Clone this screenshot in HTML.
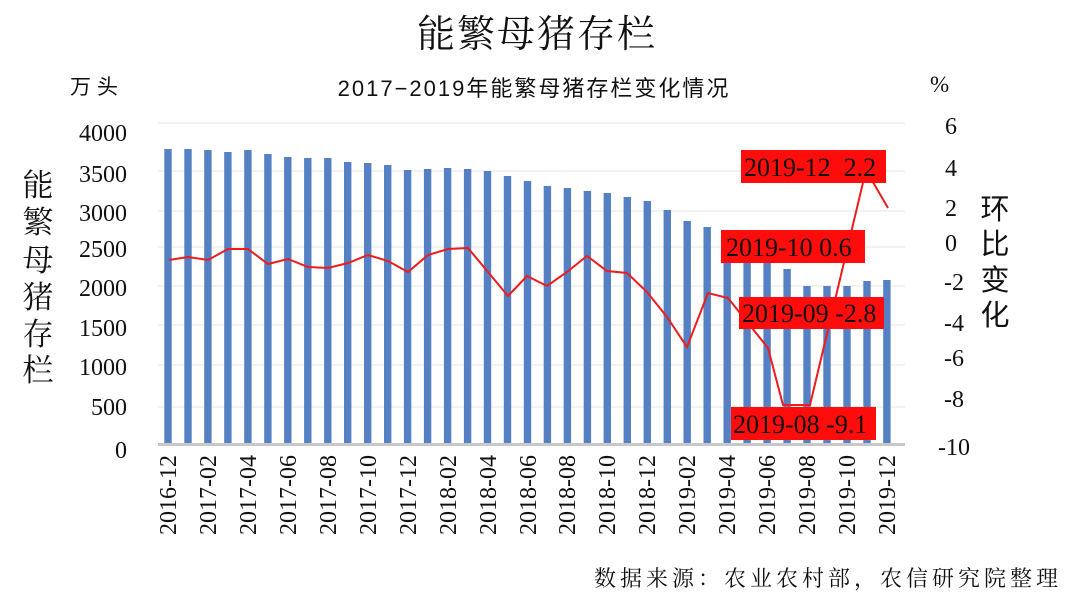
<!DOCTYPE html>
<html><head><meta charset="utf-8"><style>
body{margin:0;background:#fff}
svg{display:block}
.s{font-family:"Liberation Serif","Noto Serif CJK SC",serif}
.k{font-family:"Liberation Sans","Noto Sans CJK SC",sans-serif}
.t{font-family:"Liberation Serif","Noto Serif CJK SC",serif}
</style></head><body>
<svg width="1080" height="604" viewBox="0 0 1080 604" xmlns="http://www.w3.org/2000/svg">
<text x="537" y="47" class="t" font-size="38" text-anchor="middle" fill="#111" letter-spacing="2">能繁母猪存栏</text>
<text x="534" y="96" class="k" font-size="22" text-anchor="middle" fill="#111" letter-spacing="2">2017−2019年能繁母猪存栏变化情况</text>
<text x="70" y="94" class="k" font-size="21" fill="#111" letter-spacing="6">万头</text>
<text x="930" y="92" class="s" font-size="23" fill="#111">%</text>
<g stroke="#e6e6e6" stroke-width="1">
<line x1="158" x2="905" y1="123" y2="123"/><line x1="158" x2="905" y1="171" y2="171"/>
<line x1="158" x2="905" y1="211" y2="211"/><line x1="158" x2="905" y1="247" y2="247"/>
<line x1="158" x2="905" y1="286" y2="286"/><line x1="158" x2="905" y1="325" y2="325"/>
<line x1="158" x2="905" y1="365" y2="365"/><line x1="158" x2="905" y1="407" y2="407"/>
</g>
<g class="s" font-size="24" fill="#111" text-anchor="end">
<text x="127" y="141">4000</text><text x="127" y="182">3500</text><text x="127" y="221">3000</text>
<text x="127" y="257">2500</text><text x="127" y="296">2000</text><text x="127" y="336">1500</text>
<text x="127" y="375">1000</text><text x="127" y="415">500</text><text x="127" y="458">0</text>
</g>
<g class="s" font-size="24" fill="#111" text-anchor="end">
<text x="957" y="134">6</text><text x="957" y="176">4</text><text x="957" y="216">2</text>
<text x="957" y="251">0</text><text x="964" y="290">-2</text><text x="964" y="331">-4</text>
<text x="964" y="366">-6</text><text x="964" y="407">-8</text><text x="970" y="455">-10</text>
</g>
<g class="t" font-size="31" fill="#111" text-anchor="middle">
<text x="38" y="196">能</text><text x="38" y="233">繁</text><text x="38" y="271">母</text>
<text x="38" y="308">猪</text><text x="38" y="345">存</text><text x="38" y="381">栏</text>
</g>
<g class="k" font-size="29" fill="#111" text-anchor="middle">
<text x="995" y="219">环</text><text x="995" y="254">比</text><text x="995" y="290">变</text><text x="995" y="325">化</text>
</g>
<g fill="#5580c4">
<rect x="164.3" y="149" width="7.4" height="295"/>
<rect x="184.3" y="149" width="7.4" height="295"/>
<rect x="204.2" y="150" width="7.4" height="294"/>
<rect x="224.2" y="152" width="7.4" height="292"/>
<rect x="244.2" y="150" width="7.4" height="294"/>
<rect x="264.2" y="154" width="7.4" height="290"/>
<rect x="284.1" y="157" width="7.4" height="287"/>
<rect x="304.1" y="158" width="7.4" height="286"/>
<rect x="324.1" y="158" width="7.4" height="286"/>
<rect x="344.0" y="162" width="7.4" height="282"/>
<rect x="364.0" y="163" width="7.4" height="281"/>
<rect x="384.0" y="165" width="7.4" height="279"/>
<rect x="403.9" y="170" width="7.4" height="274"/>
<rect x="423.9" y="169" width="7.4" height="275"/>
<rect x="443.9" y="168" width="7.4" height="276"/>
<rect x="463.9" y="169" width="7.4" height="275"/>
<rect x="483.8" y="171" width="7.4" height="273"/>
<rect x="503.8" y="176" width="7.4" height="268"/>
<rect x="523.8" y="181" width="7.4" height="263"/>
<rect x="543.7" y="186" width="7.4" height="258"/>
<rect x="563.7" y="188" width="7.4" height="256"/>
<rect x="583.7" y="191" width="7.4" height="253"/>
<rect x="603.6" y="193" width="7.4" height="251"/>
<rect x="623.6" y="197" width="7.4" height="247"/>
<rect x="643.6" y="201" width="7.4" height="243"/>
<rect x="663.6" y="210" width="7.4" height="234"/>
<rect x="683.5" y="221" width="7.4" height="223"/>
<rect x="703.5" y="227" width="7.4" height="217"/>
<rect x="723.5" y="240" width="7.4" height="204"/>
<rect x="743.4" y="250" width="7.4" height="194"/>
<rect x="763.4" y="258" width="7.4" height="186"/>
<rect x="783.4" y="269" width="7.4" height="175"/>
<rect x="803.3" y="286" width="7.4" height="158"/>
<rect x="823.3" y="286" width="7.4" height="158"/>
<rect x="843.3" y="286" width="7.4" height="158"/>
<rect x="863.3" y="281" width="7.4" height="163"/>
<rect x="883.2" y="280" width="7.4" height="164"/>
</g>
<line x1="158" x2="905" y1="444.5" y2="444.5" stroke="#c8c8c8" stroke-width="3"/>
<polyline fill="none" stroke="#ee1c1c" stroke-width="2" points="169,260 188,257 208,260 228,249 248,249 268,264 288,259 308,267 328,268 348,263 368,255 388,261 408,272 428,255 448,249 468,248 488,272 508,296 527,276 547,286 567,272 587,256 607,271 627,273 647,292 667,317 687,347 708,293 728,298 748,323 768,348 783,405 810,405 866,170 888,208"/>
<g class="s" font-size="26" fill="#111">
<rect x="741" y="150" width="145" height="33" fill="#ff0d0d"/><text x="744" y="176" xml:space="preserve">2019-12  2.2</text>
<rect x="721" y="230" width="144" height="33" fill="#ff0d0d"/><text x="726" y="256">2019-10 0.6</text>
<rect x="739" y="297" width="145" height="32" fill="#ff0d0d"/><text x="742" y="322">2019-09 -2.8</text>
<rect x="731" y="407" width="145" height="33" fill="#ff0d0d"/><text x="733" y="433">2019-08 -9.1</text>
</g>
<g class="s" font-size="24" fill="#111" text-anchor="end">
<text transform="translate(176,455) rotate(-90)">2016-12</text>
<text transform="translate(216,455) rotate(-90)">2017-02</text>
<text transform="translate(256,455) rotate(-90)">2017-04</text>
<text transform="translate(296,455) rotate(-90)">2017-06</text>
<text transform="translate(336,455) rotate(-90)">2017-08</text>
<text transform="translate(376,455) rotate(-90)">2017-10</text>
<text transform="translate(416,455) rotate(-90)">2017-12</text>
<text transform="translate(456,455) rotate(-90)">2018-02</text>
<text transform="translate(496,455) rotate(-90)">2018-04</text>
<text transform="translate(536,455) rotate(-90)">2018-06</text>
<text transform="translate(575,455) rotate(-90)">2018-08</text>
<text transform="translate(615,455) rotate(-90)">2018-10</text>
<text transform="translate(655,455) rotate(-90)">2018-12</text>
<text transform="translate(695,455) rotate(-90)">2019-02</text>
<text transform="translate(735,455) rotate(-90)">2019-04</text>
<text transform="translate(775,455) rotate(-90)">2019-06</text>
<text transform="translate(815,455) rotate(-90)">2019-08</text>
<text transform="translate(855,455) rotate(-90)">2019-10</text>
<text transform="translate(895,455) rotate(-90)">2019-12</text>
</g>
<text x="1062" y="586" class="t" font-size="22" text-anchor="end" fill="#111" letter-spacing="4">数据来源：农业农村部，农信研究院整理</text>
</svg>
</body></html>
